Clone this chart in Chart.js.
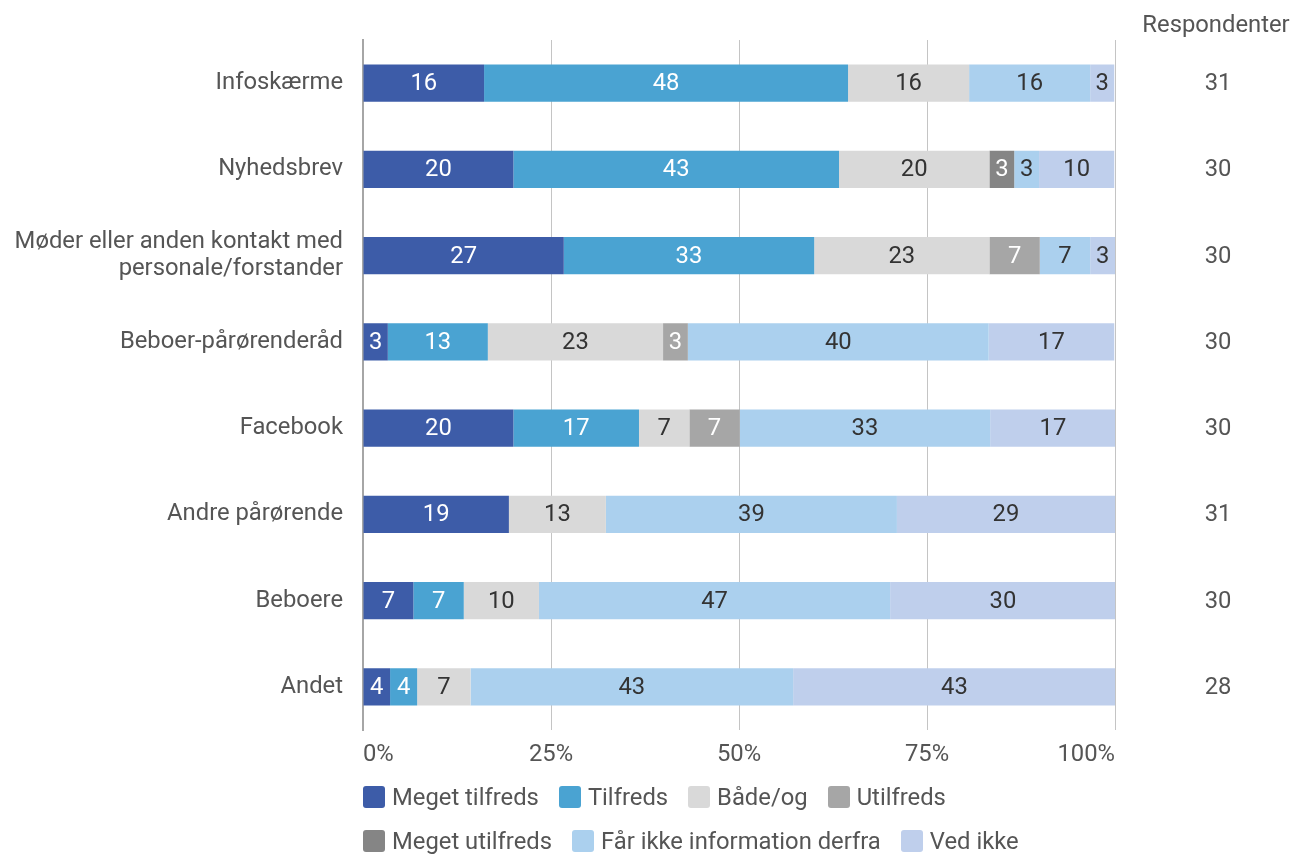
<!DOCTYPE html>
<html lang="da">
<head>
<meta charset="UTF-8">
<title>Informationskanaler</title>
<script src="https://cdn.jsdelivr.net/npm/chart.js"></script>
<style>
    body { margin: 0; background: #fff; font-family: Roboto, sans-serif; }
    .wrap { position: relative; width: 1295px; height: 854px; }
    #legenda { position: absolute; left: 363px; top: 783px; }
    .linha { display: flex; gap: 20px; height: 44px; align-items: flex-start; }
    .item { display: flex; align-items: center; font-size: 23.8px; color: #555; height: 28px; white-space: nowrap; }
    .caixa { width: 22px; height: 22px; border-radius: 3px; margin-right: 7px; }
</style>
</head>
<body>
<div class="wrap">
    <canvas id="grafico" width="1295" height="854"></canvas>
    <div id="legenda"></div>
</div>

<script>
    const categorias = [
        'Infoskærme',
        'Nyhedsbrev',
        ['Møder eller anden kontakt med', 'personale/forstander'],
        'Beboer-pårørenderåd',
        'Facebook',
        'Andre pårørende',
        'Beboere',
        'Andet'
    ];
    const respondenter = [31, 30, 30, 30, 30, 31, 30, 28];

    const megetTilfreds   = [16.1, 20.0, 26.7, 3.3, 20.0, 19.4, 6.7, 3.6];
    const tilfreds        = [48.4, 43.3, 33.3, 13.3, 16.7, 0, 6.7, 3.6];
    const baadeOg         = [16.1, 20.0, 23.3, 23.3, 6.7, 12.9, 10.0, 7.1];
    const utilfreds       = [0, 0, 6.7, 3.3, 6.7, 0, 0, 0];
    const megetUtilfreds  = [0, 3.3, 0, 0, 0, 0, 0, 0];
    const faarIkkeInfo    = [16.1, 3.3, 6.7, 40.0, 33.3, 38.7, 46.7, 42.9];
    const vedIkke         = [3.2, 10.0, 3.3, 16.7, 16.7, 29.0, 30.0, 42.9];

    const xTicks = [0, 25, 50, 75, 100];

    const series = [
        { nome: 'Meget tilfreds', dados: megetTilfreds, cor: '#3d5ca8', texto: '#ffffff' },
        { nome: 'Tilfreds', dados: tilfreds, cor: '#4aa3d2', texto: '#ffffff' },
        { nome: 'Både/og', dados: baadeOg, cor: '#d9d9d9', texto: '#333333' },
        { nome: 'Utilfreds', dados: utilfreds, cor: '#a6a6a6', texto: '#ffffff' },
        { nome: 'Meget utilfreds', dados: megetUtilfreds, cor: '#858585', texto: '#ffffff' },
        { nome: 'Får ikke information derfra', dados: faarIkkeInfo, cor: '#abd0ee', texto: '#333333' },
        { nome: 'Ved ikke', dados: vedIkke, cor: '#bfcfec', texto: '#333333' }
    ];

    // legenda em html, duas linhas
    const legenda = document.getElementById('legenda');
    [[0, 4], [4, 7]].forEach(function (faixa) {
        const linha = document.createElement('div');
        linha.className = 'linha';
        series.slice(faixa[0], faixa[1]).forEach(function (s) {
            const item = document.createElement('div');
            item.className = 'item';
            item.innerHTML = '<span class="caixa" style="background:' + s.cor + '"></span>' + s.nome;
            linha.appendChild(item);
        });
        legenda.appendChild(linha);
    });

    // valores dentro das barras
    const rotulos = {
        id: 'rotulos',
        afterDatasetsDraw(chart) {
            const ctx = chart.ctx;
            ctx.save();
            ctx.font = '23.8px Roboto';
            ctx.textAlign = 'center';
            ctx.textBaseline = 'middle';
            chart.data.datasets.forEach(function (ds, i) {
                const meta = chart.getDatasetMeta(i);
                meta.data.forEach(function (bar, j) {
                    const v = ds.data[j];
                    if (!v) return;
                    const meio = (bar.x + bar.base) / 2;
                    ctx.fillStyle = series[i].texto;
                    ctx.fillText(Math.round(v), meio, bar.y + 1);
                });
            });
            ctx.restore();
        }
    };

    // coluna de respondentes
    const colunaResp = {
        id: 'colunaResp',
        afterDraw(chart) {
            const ctx = chart.ctx;
            const y = chart.scales.y;
            ctx.save();
            ctx.font = '23.8px Roboto';
            ctx.fillStyle = '#555';
            ctx.textAlign = 'center';
            ctx.textBaseline = 'middle';
            ctx.fillText('Respondenter', 1216, 26);
            respondenter.forEach(function (n, i) {
                ctx.fillText(n, 1218, y.getPixelForValue(i) + 1);
            });
            ctx.restore();
        }
    };

    new Chart(document.getElementById('grafico'), {
        type: 'bar',
        data: {
            labels: categorias,
            datasets: series.map(function (s) {
                return {
                    label: s.nome,
                    data: s.dados,
                    backgroundColor: s.cor,
                    borderWidth: 0,
                    barPercentage: 0.86,
                    categoryPercentage: 0.5
                };
            })
        },
        options: {
            indexAxis: 'y',
            responsive: false,
            animation: false,
            layout: { padding: { top: 40, right: 180, left: 0, bottom: 0 } },
            plugins: {
                legend: { display: false },
                tooltip: { enabled: false }
            },
            scales: {
                x: {
                    stacked: true,
                    min: 0,
                    max: 100,
                    afterBuildTicks(scale) {
                        scale.ticks = xTicks.map(function (v) { return { value: v }; });
                    },
                    afterFit(scale) { scale.height = 124; },
                    grid: { color: '#c4c4c4', lineWidth: 1, drawTicks: false },
                    border: { display: false },
                    ticks: {
                        align: 'inner',
                        padding: 11,
                        color: '#555',
                        font: { family: 'Roboto', size: 23.8 },
                        callback: function (v) { return v + '%'; }
                    }
                },
                y: {
                    stacked: true,
                    afterFit(scale) { scale.width = 363; },
                    grid: { display: false, drawTicks: false },
                    border: { display: true, color: '#a6a6a6', width: 2 },
                    ticks: {
                        padding: 20,
                        color: '#555',
                        font: { family: 'Roboto', size: 23.8, lineHeight: 1.1 }
                    }
                }
            }
        },
        plugins: [rotulos, colunaResp]
    });
</script>
</body>
</html>
